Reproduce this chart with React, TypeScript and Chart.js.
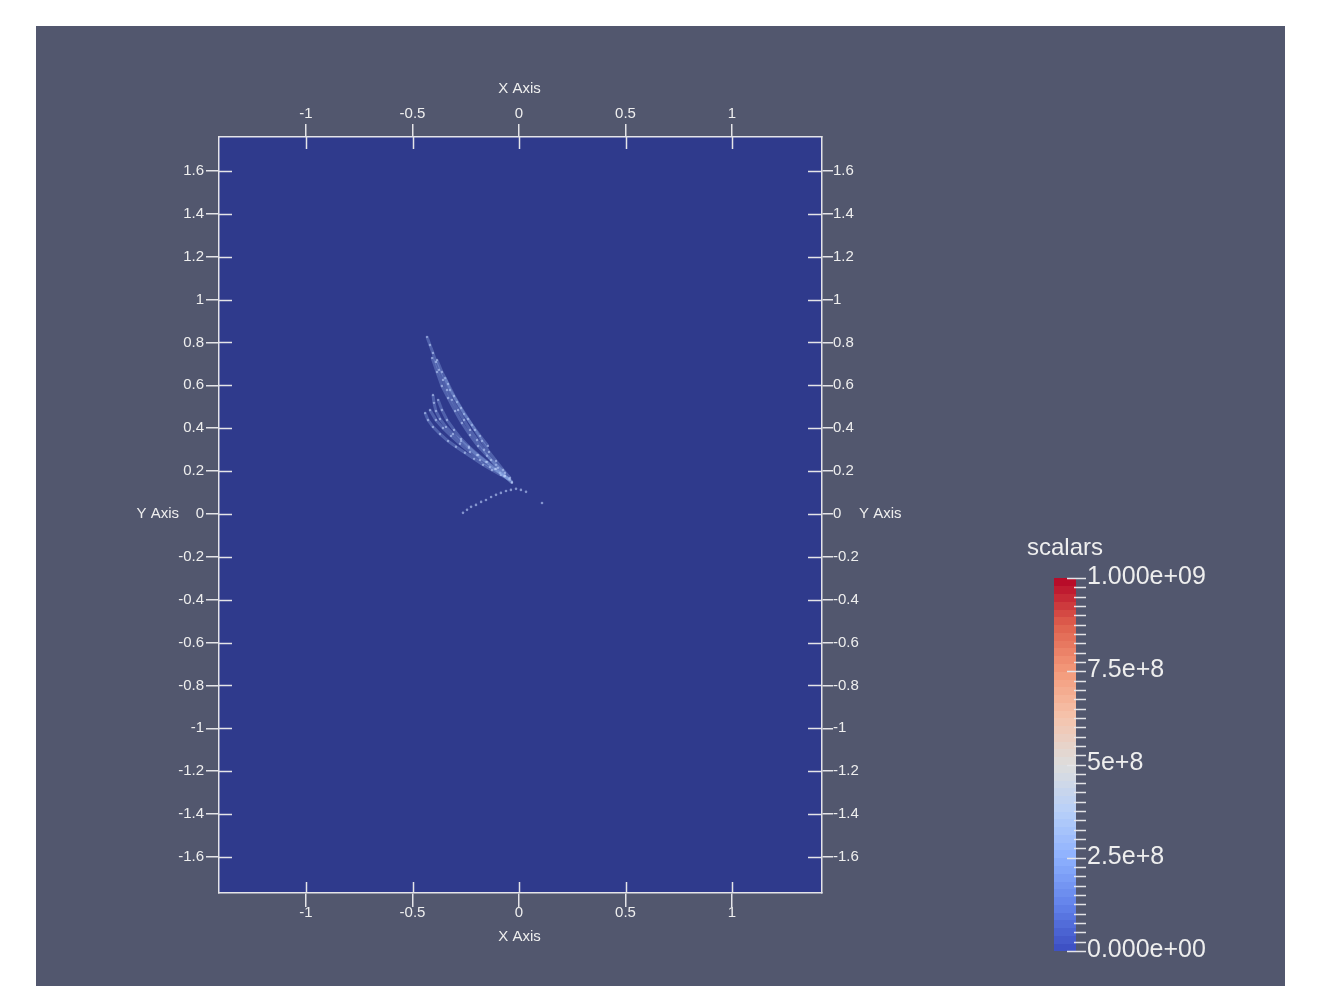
import React, { useEffect, useRef } from "react";
import { Chart, registerables } from "chart.js";

Chart.register(...registerables);

// ---------- data ----------
const X_TICKS = [-1, -0.5, 0, 0.5, 1];
const X_TICK_LABELS = ["-1", "-0.5", "0", "0.5", "1"];
const Y_TICKS = [1.6, 1.4, 1.2, 1, 0.8, 0.6, 0.4, 0.2, 0, -0.2, -0.4, -0.6, -0.8, -1, -1.2, -1.4, -1.6];
const Y_TICK_LABELS = ["1.6", "1.4", "1.2", "1", "0.8", "0.6", "0.4", "0.2", "0", "-0.2", "-0.4", "-0.6", "-0.8", "-1", "-1.2", "-1.4", "-1.6"];
const X_MIN = -1.4085;
const X_MAX = 1.4225;
const Y_MIN = -1.768;
const Y_MAX = 1.758;
const X_TITLE = "X Axis";
const Y_TITLE = "Y Axis";

// feather-like streaks of points (x, y)
const STREAK_A_X = [-0.432, -0.418, -0.404, -0.39, -0.376, -0.357, -0.338, -0.315, -0.286, -0.258, -0.23, -0.197, -0.164, -0.131, -0.099, -0.066, -0.033];
const STREAK_A_Y = [0.826, 0.788, 0.751, 0.709, 0.672, 0.625, 0.578, 0.532, 0.485, 0.438, 0.392, 0.345, 0.299, 0.252, 0.215, 0.177, 0.145];
const STREAK_B_X = [-0.385, -0.362, -0.333, -0.305, -0.272, -0.239, -0.207, -0.174, -0.141, -0.108, -0.075, -0.042];
const STREAK_B_Y = [0.718, 0.662, 0.606, 0.55, 0.494, 0.443, 0.392, 0.34, 0.289, 0.247, 0.205, 0.168];
const STREAK_C_X = [-0.404, -0.399, -0.39, -0.371, -0.343, -0.31, -0.272, -0.235, -0.197, -0.155, -0.113, -0.07, -0.033];
const STREAK_C_Y = [0.555, 0.518, 0.48, 0.443, 0.406, 0.373, 0.34, 0.308, 0.275, 0.243, 0.21, 0.177, 0.149];
const STREAK_D_X = [-0.441, -0.427, -0.404, -0.371, -0.333, -0.296, -0.254, -0.211, -0.169, -0.127, -0.085, -0.042];
const STREAK_D_Y = [0.471, 0.438, 0.406, 0.373, 0.34, 0.313, 0.285, 0.257, 0.229, 0.205, 0.182, 0.159];
const STREAK_E_X = [-0.38, -0.362, -0.338, -0.305, -0.272, -0.235, -0.192, -0.15, -0.108, -0.066];
const STREAK_E_Y = [0.532, 0.485, 0.438, 0.392, 0.35, 0.313, 0.275, 0.243, 0.21, 0.177];
const STREAK_F_X = [-0.347, -0.324, -0.291, -0.258, -0.221, -0.183, -0.146];
const STREAK_F_Y = [0.634, 0.578, 0.522, 0.466, 0.415, 0.364, 0.317];
const STREAK_G_X = [-0.418, -0.39, -0.357, -0.319, -0.277, -0.23, -0.183, -0.136, -0.089, -0.047];
const STREAK_G_Y = [0.485, 0.438, 0.401, 0.364, 0.327, 0.289, 0.252, 0.219, 0.191, 0.163];
const STREAK_H_X = [-0.408, -0.385, -0.362, -0.333, -0.3, -0.268, -0.23, -0.192, -0.15, -0.108, -0.066];
const STREAK_H_Y = [0.728, 0.662, 0.597, 0.541, 0.48, 0.424, 0.368, 0.317, 0.271, 0.229, 0.191];
const ARC_X = [-0.263, -0.244, -0.225, -0.202, -0.178, -0.155, -0.131, -0.108, -0.085, -0.061, -0.038, -0.014, 0.009, 0.033, 0.108];
const ARC_Y = [0.005, 0.019, 0.033, 0.042, 0.056, 0.065, 0.079, 0.089, 0.098, 0.107, 0.112, 0.117, 0.112, 0.103, 0.051];

// colour bar
const CB_TITLE = "scalars";
const CB_MIN = 0;
const CB_MAX = 1e9;
const CB_TICKS = [0, 2.5e8, 5e8, 7.5e8, 1e9];
const CB_TICK_LABELS = ["0.000e+00", "2.5e+8", "5e+8", "7.5e+8", "1.000e+09"];
const CB_MINOR_STEP = 2.5e7;
const CB_STOPS = [0, 0.125, 0.25, 0.375, 0.5, 0.625, 0.75, 0.875, 1];
const CB_COLORS = [
  [59, 76, 192], [98, 130, 234], [141, 176, 254], [184, 208, 249], [221, 221, 221],
  [245, 196, 173], [244, 154, 123], [222, 96, 77], [180, 4, 38],
];

// ---------- styles ----------
const PAGE_BG = "#ffffff";
const PANEL_BG = "rgb(82,87,110)";
const PLOT_BG = "rgb(47,58,140)";
const AXIS_COLOR = "#e4e4e8";
const TEXT_COLOR = "#eeeeee";
const FONT = "'Liberation Sans', Arial, sans-serif";
const STREAK_LINE = "rgba(150,178,238,0.33)";
const STREAK_POINT = "rgba(190,208,250,0.6)";

function cmap(t: number): string {
  for (let i = 0; i < CB_STOPS.length - 1; i++) {
    if (t <= CB_STOPS[i + 1]) {
      const f = (t - CB_STOPS[i]) / (CB_STOPS[i + 1] - CB_STOPS[i]);
      const a = CB_COLORS[i], b = CB_COLORS[i + 1];
      const c = a.map((v, k) => Math.round(v + (b[k] - v) * f));
      return `rgb(${c[0]},${c[1]},${c[2]})`;
    }
  }
  const l = CB_COLORS[CB_COLORS.length - 1];
  return `rgb(${l[0]},${l[1]},${l[2]})`;
}

function zip(xs: number[], ys: number[]) {
  return xs.map((x, i) => ({ x, y: ys[i] }));
}

const decorPlugin = {
  id: "decor",
  beforeDraw(chart: any) {
    const { ctx, chartArea: a } = chart;
    ctx.save();
    ctx.fillStyle = PAGE_BG;
    ctx.fillRect(0, 0, chart.width, chart.height);
    ctx.fillStyle = PANEL_BG;
    ctx.fillRect(36, 26, 1249, chart.height - 26);
    ctx.fillStyle = PLOT_BG;
    ctx.fillRect(a.left, a.top, a.right - a.left, a.bottom - a.top);
    ctx.restore();
  },
  afterDraw(chart: any) {
    const { ctx, chartArea: a, scales } = chart;
    ctx.save();
    // inner tick parts
    ctx.strokeStyle = AXIS_COLOR;
    ctx.lineWidth = 1.5;
    ctx.beginPath();
    X_TICKS.forEach((v) => {
      const px = Math.round(scales.x.getPixelForValue(v)) + 0.5;
      ctx.moveTo(px, a.top);
      ctx.lineTo(px, a.top + 12);
      ctx.moveTo(px, a.bottom);
      ctx.lineTo(px, a.bottom - 11);
    });
    Y_TICKS.forEach((v) => {
      const py = Math.round(scales.y.getPixelForValue(v)) + 0.5;
      ctx.moveTo(a.left, py);
      ctx.lineTo(a.left + 13, py);
      ctx.moveTo(a.right, py);
      ctx.lineTo(a.right - 14, py);
    });
    ctx.stroke();

    // axis titles
    ctx.fillStyle = TEXT_COLOR;
    ctx.font = `15px ${FONT}`;
    ctx.textBaseline = "middle";
    ctx.textAlign = "center";
    const cx = (a.left + a.right) / 2 - 1;
    ctx.fillText(X_TITLE, cx, a.top - 48);
    ctx.fillText(X_TITLE, cx, a.bottom + 44);
    const y0 = scales.y.getPixelForValue(0);
    ctx.textAlign = "right";
    ctx.fillText(Y_TITLE, a.left - 40, y0);
    ctx.textAlign = "left";
    ctx.fillText(Y_TITLE, a.right + 37, y0);

    // colour bar
    const L = 1054, R = 1076, T = 578, B = 951;
    const pix = (v: number) => B - ((v - CB_MIN) / (CB_MAX - CB_MIN)) * (B - T);
    const bands = 48;
    for (let i = 0; i < bands; i++) {
      const y1 = B - ((i + 1) / bands) * (B - T);
      const y2 = B - (i / bands) * (B - T);
      ctx.fillStyle = cmap((i + 0.5) / bands);
      ctx.fillRect(L, Math.floor(y1), R - L, Math.ceil(y2) - Math.floor(y1));
    }
    ctx.strokeStyle = AXIS_COLOR;
    ctx.lineWidth = 1.5;
    ctx.beginPath();
    const nMinor = Math.round((CB_MAX - CB_MIN) / CB_MINOR_STEP);
    for (let i = 0; i <= nMinor; i++) {
      const v = CB_MIN + i * CB_MINOR_STEP;
      const py = Math.round(pix(v)) + 0.5;
      const major = CB_TICKS.some((t) => Math.abs(t - v) < CB_MINOR_STEP / 10);
      ctx.moveTo(major ? 1067 : 1074, py);
      ctx.lineTo(1086, py);
    }
    ctx.stroke();
    ctx.fillStyle = TEXT_COLOR;
    ctx.font = `25px ${FONT}`;
    ctx.textAlign = "left";
    ctx.textBaseline = "middle";
    CB_TICKS.forEach((v, i) => {
      ctx.fillText(CB_TICK_LABELS[i], 1087, pix(v) - 1);
    });
    ctx.font = `24px ${FONT}`;
    ctx.textAlign = "center";
    ctx.textBaseline = "alphabetic";
    ctx.fillText(CB_TITLE, (L + R) / 2, 555);
    ctx.restore();
  },
};

function axis(
  pos: "top" | "bottom" | "left" | "right",
  ticks: number[],
  labels: string[],
  min: number,
  max: number,
  size: number,
  tickLength: number,
  padding: number
) {
  const horizontal = pos === "top" || pos === "bottom";
  return {
    type: "linear",
    position: pos,
    min,
    max,
    afterBuildTicks: (s: any) => {
      s.ticks = ticks.map((v) => ({ value: v }));
    },
    afterFit: (s: any) => {
      if (horizontal) s.height = size;
      else s.width = size;
    },
    ticks: {
      autoSkip: false,
      maxRotation: 0,
      minRotation: 0,
      padding,
      color: TEXT_COLOR,
      font: { family: FONT, size: 15 },
      callback: (v: number) => {
        const i = ticks.indexOf(v);
        return i >= 0 ? labels[i] : "";
      },
    },
    grid: {
      display: true,
      drawOnChartArea: false,
      drawTicks: true,
      tickLength,
      color: AXIS_COLOR,
      tickColor: AXIS_COLOR,
      lineWidth: 1.5,
    },
    border: { display: true, color: AXIS_COLOR, width: 1.5 },
  };
}

export default function App() {
  const ref = useRef<HTMLCanvasElement | null>(null);
  useEffect(() => {
    if (!ref.current) return;
    const streaks = [
      [STREAK_A_X, STREAK_A_Y],
      [STREAK_H_X, STREAK_H_Y],
      [STREAK_B_X, STREAK_B_Y],
      [STREAK_F_X, STREAK_F_Y],
      [STREAK_E_X, STREAK_E_Y],
      [STREAK_C_X, STREAK_C_Y],
      [STREAK_G_X, STREAK_G_Y],
      [STREAK_D_X, STREAK_D_Y],
    ];
    const datasets: any[] = streaks.map(([xs, ys]) => ({
      data: zip(xs, ys),
      showLine: true,
      borderColor: STREAK_LINE,
      borderWidth: 3,
      pointRadius: 1.2,
      pointBorderWidth: 0,
      pointBackgroundColor: STREAK_POINT,
      xAxisID: "x",
      yAxisID: "y",
    }));
    datasets.push({
      data: zip(ARC_X, ARC_Y),
      showLine: false,
      pointRadius: 1.3,
      pointBorderWidth: 0,
      pointBackgroundColor: STREAK_POINT,
      xAxisID: "x",
      yAxisID: "y",
    });
    const chart = new Chart(ref.current, {
      type: "scatter",
      data: { datasets },
      plugins: [decorPlugin],
      options: {
        animation: false,
        responsive: false,
        devicePixelRatio: 1,
        events: [],
        layout: { padding: 0 },
        plugins: { legend: { display: false }, tooltip: { enabled: false } },
        scales: {
          x: axis("bottom", X_TICKS, X_TICK_LABELS, X_MIN, X_MAX, 93, 14, -3),
          x2: axis("top", X_TICKS, X_TICK_LABELS, X_MIN, X_MAX, 137, 13, 1),
          y: axis("left", Y_TICKS, Y_TICK_LABELS, Y_MIN, Y_MAX, 219, 13, 2),
          y2: axis("right", Y_TICKS, Y_TICK_LABELS, Y_MIN, Y_MAX, 495, 11, 0),
        },
      } as any,
    });
    return () => chart.destroy();
  }, []);
  return (
    <canvas
      ref={ref}
      width={1317}
      height={986}
      style={{ position: "fixed", left: 0, top: 0, display: "block" }}
    />
  );
}
